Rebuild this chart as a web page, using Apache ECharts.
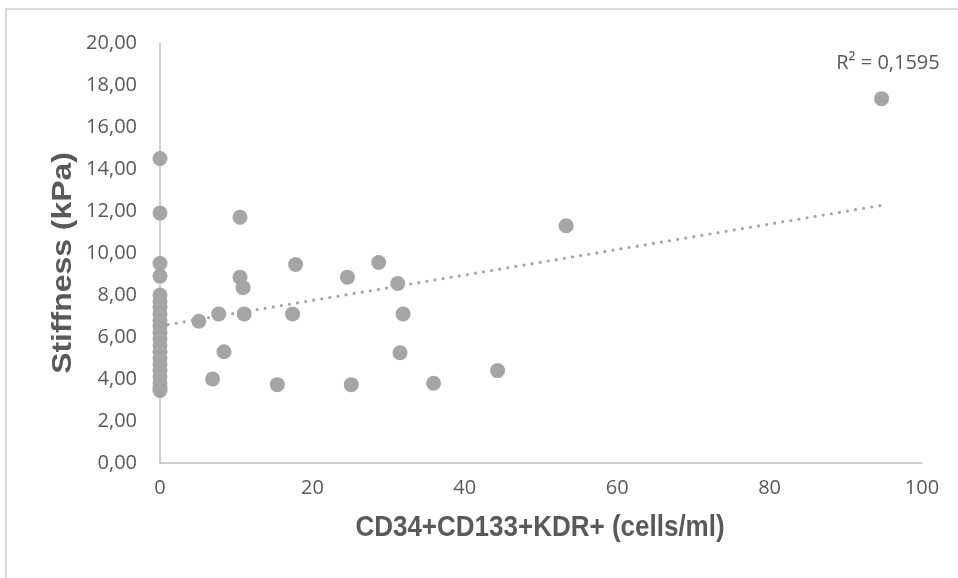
<!DOCTYPE html>
<html>
<head>
<meta charset="utf-8">
<script src="https://cdn.jsdelivr.net/npm/echarts@6/dist/echarts.min.js"></script>
<style>html,body{margin:0;padding:0;background:#fff}#c{width:958px;height:578px}</style>
</head>
<body>
<div id="c"></div>
<script>
// Data
const xValues = [0, 0, 0, 0, 0, 0, 0, 0, 0, 0, 0, 0, 0, 0, 0, 0, 0, 0, 0, 0, 0,
  5.1, 6.9, 7.7, 8.4, 10.5, 10.5, 10.9, 11.05, 15.4, 17.4, 17.8, 24.6, 25.1, 28.7, 31.2, 31.5, 31.9, 35.9, 44.3, 53.3, 94.7];
const yValues = [14.5, 11.9, 9.5, 8.9, 8.0, 7.7, 7.4, 7.1, 6.8, 6.5, 6.2, 5.9, 5.6, 5.3, 5.0, 4.7, 4.4, 4.1, 3.8, 3.6, 3.45,
  6.75, 4.0, 7.1, 5.3, 11.7, 8.85, 8.35, 7.1, 3.73, 7.1, 9.45, 8.85, 3.73, 9.55, 8.55, 5.25, 7.1, 3.8, 4.4, 11.3, 17.35];
const trendX = [0, 94.7];
const trendY = [6.53, 12.27];
const r2Label = 'R² = 0,1595';
const xTitle = 'CD34+CD133+KDR+ (cells/ml)';
const yTitle = 'Stiffness (kPa)';

const points = xValues.map((x, i) => [x, yValues[i]]);
const trend = trendX.map((x, i) => [x, trendY[i]]);

const chart = echarts.init(document.getElementById('c'), null, {renderer: 'canvas'});
const labelFont = '"Open Sans", "Noto Sans", sans-serif';
chart.setOption({
  animation: false,
  backgroundColor: '#ffffff',
  grid: {left: 160, right: 36, top: 43, bottom: 115},
  xAxis: {
    type: 'value', min: 0, max: 100, interval: 20,
    axisLine: {show: true, onZero: false, lineStyle: {color: '#bfbfbf', width: 1.5}},
    axisTick: {show: false},
    splitLine: {show: false},
    axisLabel: {color: '#595959', fontSize: 20, fontFamily: labelFont, margin: 15}
  },
  yAxis: {
    type: 'value', min: 0, max: 20, interval: 2,
    axisLine: {show: true, onZero: false, lineStyle: {color: '#bfbfbf', width: 1.5}},
    axisTick: {show: false},
    splitLine: {show: false},
    axisLabel: {color: '#595959', fontSize: 20, fontFamily: labelFont, margin: 23,
      formatter: v => v.toFixed(2).replace('.', ',')}
  },
  series: [
    {
      type: 'line', data: trend, symbol: 'none', z: 1,
      lineStyle: {color: '#a5a5a5', width: 3.2, type: [0, 8.2], cap: 'round'}
    },
    {
      type: 'scatter', data: points, symbol: 'circle', symbolSize: 15, z: 2,
      itemStyle: {color: '#a5a5a5', opacity: 1}
    }
  ],
  graphic: [
    {type: 'rect', shape: {x: 6, y: 9, width: 1000, height: 1000}, style: {fill: 'none', stroke: '#d9d9d9', lineWidth: 2}, silent: true},
    {type: 'text', x: 888, y: 63, style: {text: r2Label, fill: '#595959', font: '20px "Open Sans", "Noto Sans", sans-serif', textAlign: 'center', textVerticalAlign: 'middle'}},
    {type: 'text', x: 540, y: 528, scaleY: 1.13, style: {text: xTitle, fill: '#595959', font: 'bold 26px "Liberation Sans", Arial, sans-serif', textAlign: 'center', textVerticalAlign: 'middle'}},
    {type: 'text', x: 63, y: 263, rotation: Math.PI / 2, scaleX: 1.14, style: {text: yTitle, fill: '#595959', font: 'bold 28px "Liberation Sans", Arial, sans-serif', textAlign: 'center', textVerticalAlign: 'middle'}}
  ]
});
</script>
</body>
</html>
